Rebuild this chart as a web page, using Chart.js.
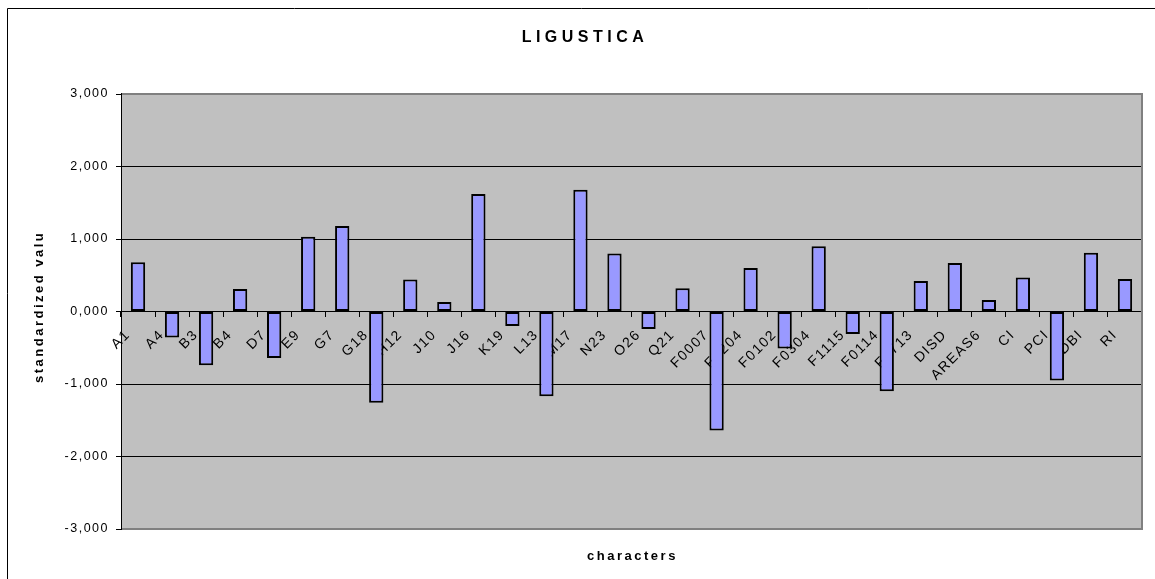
<!DOCTYPE html>
<html>
<head>
<meta charset="utf-8">
<title>LIGUSTICA</title>
<script src="https://cdn.jsdelivr.net/npm/chart.js@4.4.1/dist/chart.umd.min.js"></script>
<style>
    html, body { margin: 0; padding: 0; background: #ffffff; }
    #wrap { position: relative; width: 1155px; height: 579px; }
</style>
</head>
<body>
<div id="wrap"><canvas id="chart"></canvas></div>
<script>
// Chart data
const categories = [
    'A1', 'A4', 'B3', 'B4', 'D7', 'E9', 'G7', 'G18', 'H12', 'J10',
    'J16', 'K19', 'L13', 'M17', 'N23', 'O26', 'Q21', 'F0007', 'F0204', 'F0102',
    'F0304', 'F1115', 'F0114', 'F0713', 'DISD', 'AREAS6', 'CI', 'PCI', 'DBI', 'RI'
];
const standardizedValues = [
    0.68, -0.36, -0.74, 0.31, -0.64, 1.03, 1.18, -1.26, 0.44, 0.13,
    1.62, -0.20, -1.17, 1.68, 0.80, -0.24, 0.32, -1.64, 0.60, -0.51,
    0.90, -0.31, -1.10, 0.42, 0.67, 0.16, 0.47, -0.95, 0.81, 0.45
];
const yTickValues = [-3, -2, -1, 0, 1, 2, 3];

const CHART_TITLE = 'LIGUSTICA';
const X_TITLE = 'characters';
const Y_TITLE = 'standardized values';

const COLORS = {
    plot: '#C0C0C0',
    plotBorder: '#808080',
    bar: '#9999FF',
    line: '#000000'
};

const FONT_FAMILY = 'Arial, "Liberation Sans", sans-serif';
Chart.defaults.font.family = FONT_FAMILY;
Chart.defaults.color = '#000000';

// Excel style decimal comma with three decimals
function formatTick(value) {
    return value.toFixed(3).replace('.', ',');
}

// Plot background, frames and the titles that Excel puts around the plot
const excelFrame = {
    id: 'excelFrame',
    beforeDraw(chart) {
        const { ctx, chartArea: a } = chart;
        ctx.save();
        ctx.fillStyle = COLORS.plot;
        ctx.fillRect(a.left, a.top, a.right - a.left, a.bottom - a.top);
        ctx.restore();
        // Excel renders the tick text a little spread out
        ctx.letterSpacing = '1.5px';
    },
    afterDraw(chart) {
        const { ctx, chartArea: a } = chart;
        ctx.save();
        ctx.letterSpacing = '0px';

        // gray plot border (top, right, bottom)
        ctx.strokeStyle = COLORS.plotBorder;
        ctx.lineWidth = 2;
        ctx.beginPath();
        ctx.moveTo(a.left, a.top);
        ctx.lineTo(a.right, a.top);
        ctx.lineTo(a.right, a.bottom);
        ctx.lineTo(a.left, a.bottom);
        ctx.stroke();

        // value axis line
        ctx.strokeStyle = COLORS.line;
        ctx.lineWidth = 1;
        ctx.beginPath();
        ctx.moveTo(a.left + 0.5, a.top - 1);
        ctx.lineTo(a.left + 0.5, a.bottom + 1);
        ctx.stroke();

        // outer chart frame, only top and left are in the picture
        ctx.beginPath();
        ctx.moveTo(1155, 8.5);
        ctx.lineTo(7.5, 8.5);
        ctx.lineTo(7.5, 579);
        ctx.stroke();

        ctx.fillStyle = '#000000';

        // chart title
        ctx.font = 'bold 16px ' + FONT_FAMILY;
        ctx.letterSpacing = '4.5px';
        ctx.textAlign = 'center';
        ctx.textBaseline = 'middle';
        ctx.fillText(CHART_TITLE, 585, 38);

        // category axis title, centred on the plot
        ctx.font = 'bold 13px ' + FONT_FAMILY;
        ctx.letterSpacing = '2.5px';
        ctx.fillText(X_TITLE, (a.left + a.right) / 2 + 1, 556);

        // value axis title, clipped like the original
        ctx.save();
        ctx.beginPath();
        ctx.rect(0, 232, 120, 300);
        ctx.clip();
        ctx.translate(39, 383);
        ctx.rotate(-Math.PI / 2);
        ctx.textAlign = 'left';
        ctx.fillText(Y_TITLE, 0, 0);
        ctx.restore();

        ctx.restore();
    }
};

const data = {
    labels: categories,
    datasets: [{
        label: 'LIGUSTICA',
        data: standardizedValues,
        backgroundColor: COLORS.bar,
        borderColor: COLORS.line,
        borderWidth: 2,
        borderSkipped: false,
        barPercentage: 0.42,
        categoryPercentage: 1.0
    }]
};

const options = {
    responsive: false,
    animation: false,
    devicePixelRatio: 1,
    layout: {
        padding: { left: 0, top: 94, right: 13, bottom: 50 }
    },
    plugins: {
        legend: { display: false },
        title: { display: false },
        tooltip: { enabled: false }
    },
    scales: {
        x: {
            position: { y: 0 },
            offset: true,
            grid: {
                display: true,
                offset: true,
                drawOnChartArea: false,
                drawTicks: true,
                tickLength: 5,
                color: COLORS.line
            },
            border: { display: true, color: COLORS.line, width: 1 },
            ticks: {
                autoSkip: false,
                maxRotation: 45,
                minRotation: 45,
                padding: 10,
                labelOffset: -10,
                font: { size: 14 },
                color: '#000000'
            }
        },
        y: {
            min: -3,
            max: 3,
            afterFit(scale) {
                scale.width = 121;
            },
            afterBuildTicks(scale) {
                scale.ticks = yTickValues.map(v => ({ value: v }));
            },
            grid: {
                drawTicks: true,
                tickLength: 5,
                tickColor: COLORS.line,
                lineWidth: 1,
                color: ctx => (Math.abs(ctx.tick.value) === 3 ? 'rgba(0,0,0,0)' : COLORS.line)
            },
            border: { display: true, color: COLORS.line, width: 1 },
            ticks: {
                padding: 7,
                font: { size: 12.5 },
                color: '#000000',
                callback: value => formatTick(value)
            }
        }
    }
};

const canvas = document.getElementById('chart');
canvas.width = 1155;
canvas.height = 579;

new Chart(canvas, {
    type: 'bar',
    data,
    options,
    plugins: [excelFrame]
});
</script>
</body>
</html>
